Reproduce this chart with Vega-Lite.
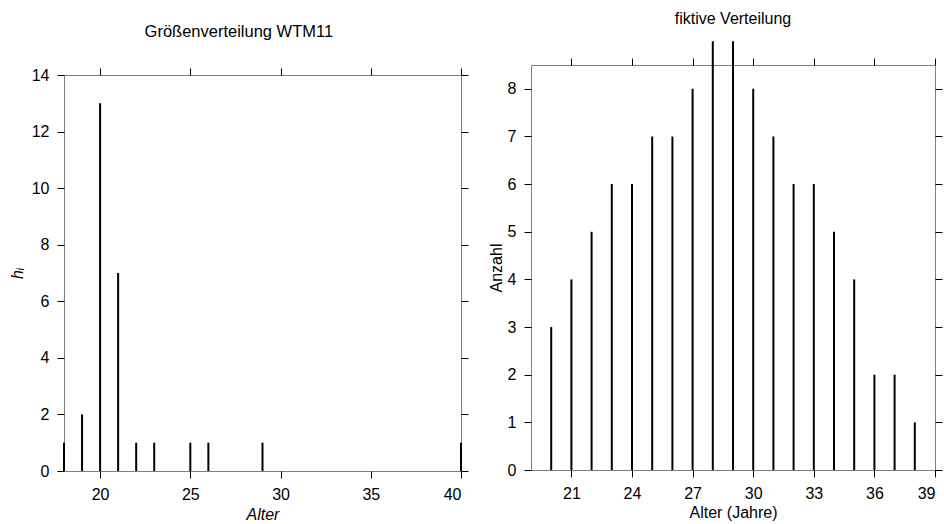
{
  "$schema": "https://vega.github.io/schema/vega-lite/v6.json",
  "padding": {"left": 8, "top": 10, "right": 0, "bottom": 0},
  "background": "white",
  "config": {
    "font": "Liberation Sans",
    "view": {"stroke": "#808080", "strokeWidth": 1},
    "axis": {
      "domain": false, "grid": false, "ticks": true,
      "tickColor": "black", "tickSize": 7, "tickWidth": 1,
      "labelFont": "Liberation Sans", "labelFontSize": 16, "labelColor": "black", "labelPadding": 8,
      "titleFont": "Liberation Sans", "titleFontSize": 16, "titleFontWeight": "normal", "titleColor": "black"
    },
    "title": {"font": "Liberation Sans", "fontSize": 16, "fontWeight": "normal", "color": "black", "anchor": "middle"}
  },
  "spacing": 18,
  "hconcat": [
    {
      "spacing": 0,
      "title": {"text": "Größenverteilung WTM11", "offset": 25, "anchor": "middle", "fontSize": 16.5},
      "vconcat": [
        {
          "width": 397, "height": 1,
          "data": {"values": []},
          "mark": "point",
          "encoding": {},
          "view": {"stroke": null}
        },
        {
          "width": 397, "height": 396,
          "data": {"values": [
            {"Alter": 18, "h": 1}, {"Alter": 19, "h": 2}, {"Alter": 20, "h": 13},
            {"Alter": 21, "h": 7}, {"Alter": 22, "h": 1}, {"Alter": 23, "h": 1},
            {"Alter": 25, "h": 1}, {"Alter": 26, "h": 1}, {"Alter": 29, "h": 1},
            {"Alter": 40, "h": 1}
          ]},
          "layer": [
            {
              "mark": {"type": "rule", "color": "black", "strokeWidth": 2},
              "encoding": {
                "x": {"field": "Alter", "type": "quantitative",
                  "scale": {"domain": [18, 40], "nice": false, "zero": false},
                  "axis": {"values": [20, 25, 30, 35, 40], "title": "Alter", "titleFontStyle": "italic", "titlePadding": 4}},
                "y": {"field": "h", "type": "quantitative",
                  "scale": {"domain": [0, 14], "nice": false},
                  "axis": {"values": [0, 2, 4, 6, 8, 10, 12, 14], "title": "hᵢ", "titleFontStyle": "italic", "titlePadding": 6}},
                "y2": {"datum": 0}
              }
            },
            {
              "mark": {"type": "rule", "opacity": 0},
              "encoding": {
                "x": {"field": "Alter", "type": "quantitative",
                  "axis": {"orient": "top", "values": [20, 25, 30, 35, 40], "labels": false, "title": null}},
                "y": {"field": "h", "type": "quantitative",
                  "axis": {"orient": "right", "values": [0, 2, 4, 6, 8, 10, 12, 14], "labels": false, "title": null}},
                "y2": {"datum": 0}
              }
            }
          ],
          "resolve": {"axis": {"x": "independent", "y": "independent"}}
        }
      ]
    },
    {
      "width": 404, "height": 405,
      "title": {"text": "fiktive Verteilung", "offset": 13, "anchor": "middle"},
      "data": {"values": [
        {"Alter": 20, "Anzahl": 3}, {"Alter": 21, "Anzahl": 4}, {"Alter": 22, "Anzahl": 5},
        {"Alter": 23, "Anzahl": 6}, {"Alter": 24, "Anzahl": 6}, {"Alter": 25, "Anzahl": 7},
        {"Alter": 26, "Anzahl": 7}, {"Alter": 27, "Anzahl": 8}, {"Alter": 28, "Anzahl": 9},
        {"Alter": 29, "Anzahl": 9}, {"Alter": 30, "Anzahl": 8}, {"Alter": 31, "Anzahl": 7},
        {"Alter": 32, "Anzahl": 6}, {"Alter": 33, "Anzahl": 6}, {"Alter": 34, "Anzahl": 5},
        {"Alter": 35, "Anzahl": 4}, {"Alter": 36, "Anzahl": 2}, {"Alter": 37, "Anzahl": 2},
        {"Alter": 38, "Anzahl": 1}
      ]},
      "layer": [
        {
          "mark": {"type": "rule", "color": "black", "strokeWidth": 2},
          "encoding": {
            "x": {"field": "Alter", "type": "quantitative",
              "scale": {"domain": [19, 39], "nice": false, "zero": false},
              "axis": {"values": [21, 24, 27, 30, 33, 36, 39], "title": "Alter (Jahre)", "titlePadding": 3}},
            "y": {"field": "Anzahl", "type": "quantitative",
              "scale": {"domain": [0, 8.5], "nice": false},
              "axis": {"values": [0, 1, 2, 3, 4, 5, 6, 7, 8], "title": "Anzahl", "titlePadding": 3}},
            "y2": {"datum": 0}
          }
        },
        {
          "mark": {"type": "rule", "opacity": 0},
          "encoding": {
            "x": {"field": "Alter", "type": "quantitative",
              "axis": {"orient": "top", "values": [21, 24, 27, 30, 33, 36, 39], "labels": false, "title": null}},
            "y": {"field": "Anzahl", "type": "quantitative",
              "axis": {"orient": "right", "values": [0, 1, 2, 3, 4, 5, 6, 7, 8], "labels": false, "title": null}},
            "y2": {"datum": 0}
          }
        }
      ],
      "resolve": {"axis": {"x": "independent", "y": "independent"}}
    }
  ]
}
